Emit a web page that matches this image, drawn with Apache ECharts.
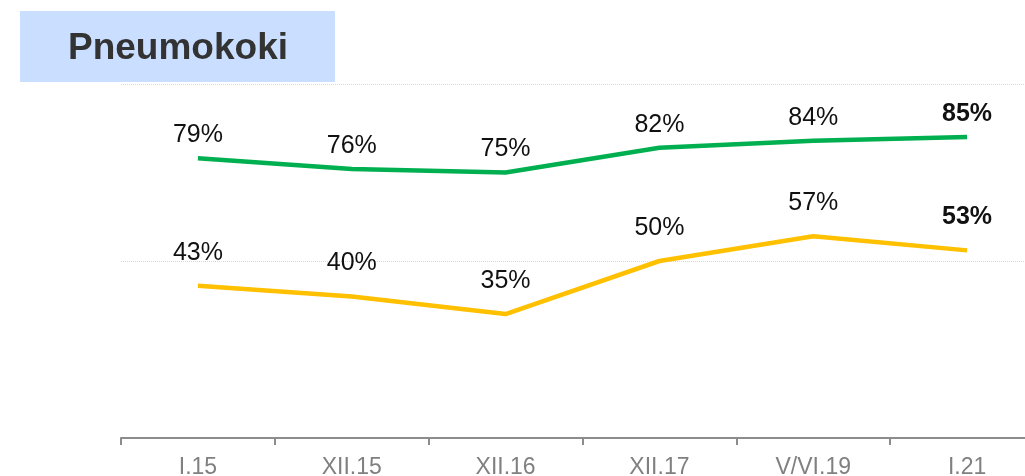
<!DOCTYPE html>
<html>
<head>
<meta charset="utf-8">
<script src="https://cdn.jsdelivr.net/npm/echarts@6/dist/echarts.min.js"></script>
<style>
  html, body { margin: 0; padding: 0; background: #fff; }
  #chart { width: 1025px; height: 476px; }
</style>
</head>
<body>
<div id="chart"></div>
<script>
var categories = ['I.15', 'XII.15', 'XII.16', 'XII.17', 'V/VI.19', 'I.21']
var greenValues = [79, 76, 75, 82, 84, 85]
var yellowValues = [43, 40, 35, 50, 57, 53]
var yTicks = [0, 50, 100]

var chart = echarts.init(document.getElementById('chart'))

// last point of each line gets a bold label
function withBoldLast (values) {
  return values.map(function (v, i) {
    if (i === values.length - 1) {
      return { value: v, label: { fontWeight: 'bold' } }
    }
    return v
  })
}

function lineSeries (name, values, color, distance) {
  return {
    name: name,
    type: 'line',
    data: withBoldLast(values),
    symbol: 'circle',
    symbolSize: 1,
    showSymbol: true,
    itemStyle: { color: 'rgba(0,0,0,0)', borderWidth: 0 },
    lineStyle: { color: color, width: 4.5 },
    label: {
      show: true,
      position: 'top',
      distance: distance,
      color: '#111',
      fontSize: 25,
      fontFamily: 'Liberation Sans, Arial, sans-serif',
      formatter: '{c}%'
    },
    emphasis: { disabled: true },
    animation: false
  }
}

chart.setOption({
  animation: false,
  graphic: [
    {
      type: 'rect',
      left: 20,
      top: 11,
      shape: { width: 315, height: 71 },
      style: { fill: '#cadeff' }
    },
    {
      type: 'text',
      left: 68,
      top: 30,
      style: {
        text: 'Pneumokoki',
        fill: '#333333',
        font: 'bold 37px "Liberation Sans", Arial, sans-serif'
      }
    }
  ],
  grid: {
    left: 121,
    width: 923,
    top: 84,
    bottom: 38,
    outerBoundsMode: 'none'
  },
  xAxis: {
    type: 'category',
    data: categories,
    boundaryGap: true,
    axisLine: { lineStyle: { color: '#8c8c8c', width: 2 } },
    axisTick: { show: true, length: 7, lineStyle: { color: '#8c8c8c', width: 2 } },
    axisLabel: {
      color: '#808080',
      fontSize: 23,
      margin: 18,
      fontFamily: 'Liberation Sans, Arial, sans-serif'
    },
    splitLine: { show: false }
  },
  yAxis: {
    type: 'value',
    min: yTicks[0],
    max: yTicks[yTicks.length - 1],
    interval: yTicks[1] - yTicks[0],
    axisLine: { show: false },
    axisTick: { show: false },
    axisLabel: { show: false },
    splitLine: { lineStyle: { color: '#d9d9d9', type: 'dotted', width: 1 } }
  },
  series: [
    lineSeries('green', greenValues, '#00b050', 10),
    lineSeries('yellow', yellowValues, '#ffc000', 20)
  ]
})
</script>
</body>
</html>
